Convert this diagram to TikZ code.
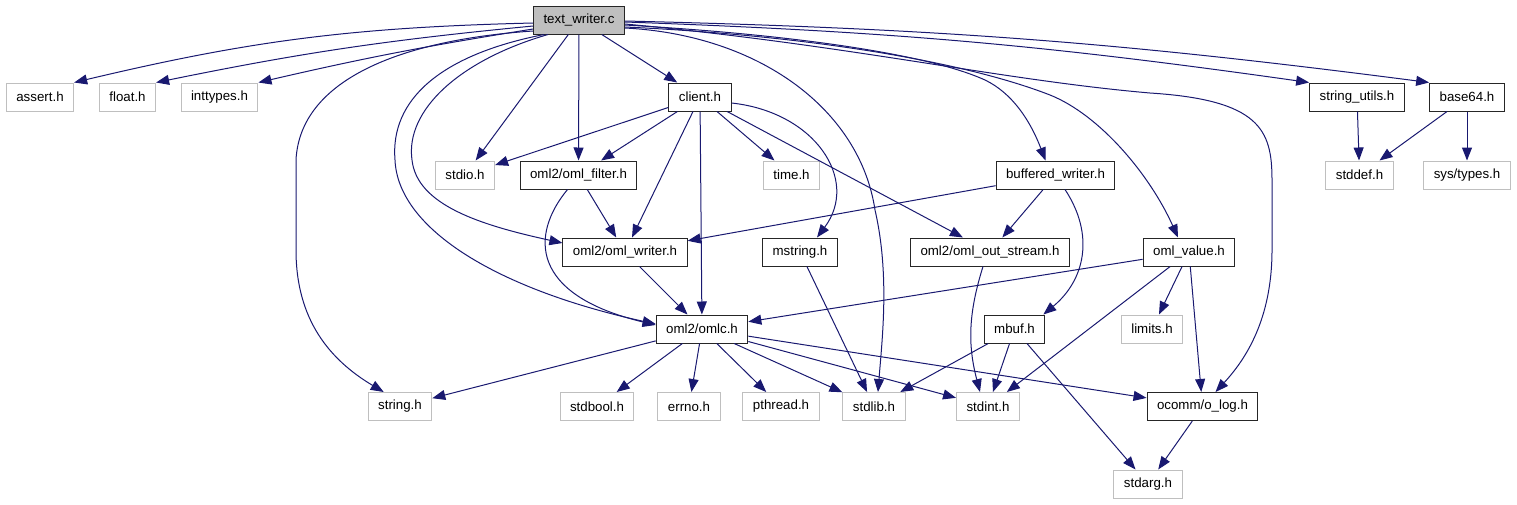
\documentclass[tikz,border=0pt]{standalone}
\usepackage{fontspec}
\setmainfont{Liberation Sans}
\usetikzlibrary{arrows.meta}
\tikzset{every node/.style={font=\fontsize{13.3}{16}\selectfont}}
\definecolor{edgecol}{HTML}{191970}
\colorlet{hdrcol}{black!85}
\colorlet{syscol}{black!25}
\colorlet{rootcol}{black!25}
\tikzset{
  hdr/.style={draw=hdrcol, fill=white, line width=1pt,
    minimum height=28pt, inner xsep=10pt},
  syshdr/.style={hdr, draw=syscol},
  srcfile/.style={hdr, fill=rootcol},
  dep/.style={->, draw=edgecol, line width=1pt},
}

\begin{document}
\begin{tikzpicture}[x=1pt, y=-1pt, >={Triangle[length=13pt, width=10pt]}]

  \useasboundingbox (0,0) rectangle (1517,504);

  % Source file.
  \node[srcfile] (tw) at (579,20) {text\_writer.c};

  % Row 1.
  \node[syshdr] (assert)   at (40,97)    {assert.h};
  \node[syshdr] (float)    at (127.5,97) {float.h};
  \node[syshdr] (inttypes) at (219.5,97) {inttypes.h};
  \node[hdr]    (client)   at (700,97)   {client.h};
  \node[hdr]    (strutils) at (1357,97)  {string\_utils.h};
  \node[hdr]    (base64)   at (1467,97)  {base64.h};

  % Row 2.
  \node[syshdr] (stdio)     at (465,175)    {stdio.h};
  \node[hdr]    (filter)    at (578.5,175)  {oml2/oml\_filter.h};
  \node[syshdr] (time)      at (791.5,175)  {time.h};
  \node[hdr]    (bufwriter) at (1055.5,175) {buffered\_writer.h};
  \node[syshdr] (stddef)    at (1359.5,175) {stddef.h};
  \node[syshdr] (systypes)  at (1467,175)   {sys/types.h};

  % Row 3.
  \node[hdr] (writer)    at (625,252)  {oml2/oml\_writer.h};
  \node[hdr] (mstring)   at (800,252)  {mstring.h};
  \node[hdr] (outstream) at (990,252)  {oml2/oml\_out\_stream.h};
  \node[hdr] (value)     at (1189,252) {oml\_value.h};

  % Row 4.
  \node[hdr]    (omlc)   at (702,329)    {oml2/omlc.h};
  \node[hdr]    (mbuf)   at (1014.5,329) {mbuf.h};
  \node[syshdr] (limits) at (1152,329)   {limits.h};

  % Row 5.
  \node[syshdr] (string)  at (400,406.5)    {string.h};
  \node[syshdr] (stdbool) at (597,406.5)    {stdbool.h};
  \node[syshdr] (errno)   at (689,406.5)    {errno.h};
  \node[syshdr] (pthread) at (781,406.5)    {pthread.h};
  \node[syshdr] (stdlib)  at (874,406.5)    {stdlib.h};
  \node[syshdr] (stdint)  at (988,406.5)    {stdint.h};
  \node[hdr]    (olog)    at (1202.5,406.5) {ocomm/o\_log.h};

  % Row 6.
  \node[syshdr] (stdarg) at (1148,484) {stdarg.h};

  % Straight includes.
  \foreach \a/\b in {tw/stdio, tw/filter, tw/client,
      client/stdio, client/filter, client/writer, client/omlc,
      client/time, client/outstream, filter/writer, writer/omlc,
      bufwriter/writer, bufwriter/outstream, mstring/stdlib,
      value/omlc, value/limits, value/stdint, value/olog,
      omlc/string, omlc/stdbool, omlc/errno, omlc/pthread,
      omlc/stdlib, omlc/stdint, omlc/olog,
      mbuf/stdlib, mbuf/stdint, mbuf/stdarg, olog/stdarg,
      strutils/stddef, base64/stddef, base64/systypes} {
    \draw[dep] (\a) -- (\b);
  }

  % Long includes to the left.
  \draw[dep] ([yshift=-3pt]tw.west) to[bend right=6] (assert.north east);
  \draw[dep] ([yshift=-6pt]tw.west) to[bend right=3] (float.north east);
  \draw[dep] ([yshift=-9pt]tw.west) to[bend right=2] (inttypes.north east);
  \draw[dep] ([yshift=-11pt]tw.west) .. controls (400,40) and (300,80) .. (296,160)
    -- (296,250) .. controls (296,320) and (330,360) .. ([xshift=16pt]string.north west);
  \draw[dep] ([xshift=11pt]tw.south west) .. controls (440,55) and (390,100) .. (395,160)
    .. controls (398,230) and (500,290) .. ([yshift=5pt]omlc.west);
  \draw[dep] ([xshift=15pt]tw.south west) .. controls (460,60) and (405,110) .. (412,160)
    .. controls (417,205) and (480,225) .. ([yshift=9pt]writer.west);
  \draw[dep] ([xshift=-11pt]filter.south) .. controls (530,235) and (530,295)
    .. ([yshift=4pt]omlc.west);

  % Long includes to the right.
  \draw[dep] ([yshift=-8pt]tw.east) .. controls (760,35) and (860,110) .. (875,210)
    .. controls (890,275) and (882,340) .. ([xshift=4pt]stdlib.north);
  \draw[dep] ([yshift=-5pt]tw.east) .. controls (800,35) and (930,55) .. (985,80)
    .. controls (1012,93) and (1030,120) .. ([xshift=-10pt]bufwriter.north);
  \draw[dep] ([yshift=-7pt]tw.east) .. controls (800,35) and (960,60) .. (1050,95)
    .. controls (1100,115) and (1150,175) .. ([xshift=-11pt]value.north);
  \draw[dep] ([yshift=-4pt]tw.east) .. controls (850,45) and (1000,80) .. (1150,93)
    .. controls (1260,100) and (1272,130) .. (1272,180) -- (1272,250)
    .. controls (1272,320) and (1245,360) .. ([xshift=13pt]olog.north);
  \draw[dep] ([yshift=-2pt]tw.east) to[bend left=3] (strutils.north west);
  \draw[dep] ([yshift=-1pt]tw.east) to[bend left=3] (base64.north west);

  % Remaining bent includes.
  \draw[dep] ([yshift=-6pt]client.east) .. controls (815,112) and (860,180)
    .. ([xshift=17pt]mstring.north);
  \draw[dep] ([xshift=9.5pt]bufwriter.south) .. controls (1095,235) and (1085,280)
    .. ([xshift=-2pt]mbuf.north east);
  \draw[dep] ([xshift=-7pt]outstream.south) to[bend right=16] ([xshift=-8pt]stdint.north);

\end{tikzpicture}
\end{document}
